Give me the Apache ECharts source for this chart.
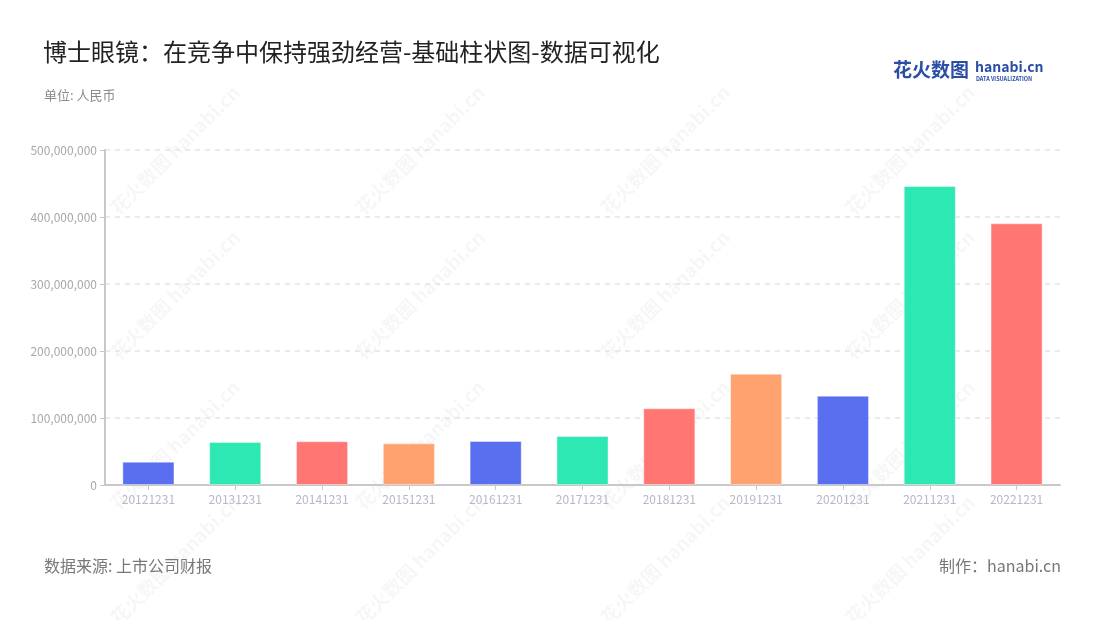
<!DOCTYPE html>
<html>
<head>
<meta charset="utf-8">
<script src="https://cdn.jsdelivr.net/npm/echarts@6/dist/echarts.min.js"></script>
<style>
html,body{margin:0;padding:0;background:#fff;}
#main{width:1100px;height:620px;}
</style>
</head>
<body>
<div id="main"></div>
<script>
const categories = ['20121231','20131231','20141231','20151231','20161231','20171231','20181231','20191231','20201231','20211231','20221231'];
const values = [34800000, 64200000, 65200000, 62200000, 65700000, 73100000, 114500000, 166100000, 133300000, 446300000, 390600000];
const palette = ['#5a6ff0', '#2ee8b4', '#ff7672', '#ffa26f'];
const yTicks = { min: 0, max: 500000000, interval: 100000000 };

const FONT = '"Noto Sans CJK SC", "Noto Sans", sans-serif';
const chart = echarts.init(document.getElementById('main'), null, { renderer: 'canvas' });

const watermarks = [];
const wmCols = [175, 420, 665, 910];
const wmRows = [150, 295, 445, 560];
wmRows.forEach((y) => {
  wmCols.forEach((x) => {
    watermarks.push({
      type: 'text', x: x, y: y, rotation: Math.PI / 4, z: 0,
      style: { text: '花火数图 hanabi.cn', fill: 'rgba(0,0,0,0.035)', font: 'bold 19px ' + FONT, align: 'center', verticalAlign: 'middle' }
    });
  });
});

chart.setOption({
  backgroundColor: '#fff',
  animation: false,
  title: [
    { text: '博士眼镜：在竞争中保持强劲经营-基础柱状图-数据可视化', left: 43, top: 40, padding: 0,
      textStyle: { fontFamily: FONT, fontSize: 24, fontWeight: 'normal', color: '#222' } },
    { text: '单位: 人民币', left: 44, top: 89, padding: 0,
      textStyle: { fontFamily: FONT, fontSize: 13, fontWeight: 'normal', color: '#8a8a8a' } },
    { text: '数据来源: 上市公司财报', left: 44, top: 558, padding: 0,
      textStyle: { fontFamily: FONT, fontSize: 16, fontWeight: 'normal', color: '#777' } },
    { text: '制作：hanabi.cn', right: 39, top: 558, padding: 0,
      textStyle: { fontFamily: FONT, fontSize: 16, fontWeight: 'normal', color: '#777' } }
  ],
  graphic: watermarks.concat([
    { type: 'text', left: 893, top: 60, z: 10,
      style: { text: '花火数图', fill: '#2b4ea5', font: 'bold 19px ' + FONT } },
    { type: 'text', left: 975, top: 60, z: 10,
      style: { text: 'hanabi.cn', fill: '#2b4ea5', font: 'bold 14px ' + FONT } },
    { type: 'text', left: 976, top: 76, z: 10,
      style: { text: 'DATA VISUALIZATION', fill: '#2b4ea5', font: 'bold 5.5px ' + FONT } }
  ]),
  grid: { left: 105, right: 40, top: 150, bottom: 135, containLabel: false },
  xAxis: {
    type: 'category',
    data: categories,
    axisLine: { show: true, lineStyle: { color: '#c8c8c8', width: 2 } },
    axisTick: { show: true, alignWithLabel: true, lineStyle: { color: '#c8c8c8' } },
    axisLabel: { color: '#b4b8c8', fontSize: 12, fontFamily: FONT, margin: 8 },
    splitLine: { show: false }
  },
  yAxis: {
    type: 'value',
    min: yTicks.min, max: yTicks.max, interval: yTicks.interval,
    axisLine: { show: true, lineStyle: { color: '#c8c8c8', width: 2 } },
    axisTick: { show: true, lineStyle: { color: '#c8c8c8' } },
    axisLabel: { color: '#a8a8a8', fontSize: 12, fontFamily: FONT,
      formatter: v => v.toLocaleString('en-US') },
    splitLine: { show: true, lineStyle: { color: '#e4e4e4', type: [5, 5], width: 1.5 } }
  },
  series: [{
    type: 'bar',
    barWidth: '60%',
    data: values.map((v, i) => ({
      value: v,
      itemStyle: { color: palette[i % 4], borderColor: 'rgba(255,255,255,0.4)', borderWidth: 1 }
    })),
    z: 5
  }]
});
</script>
</body>
</html>
